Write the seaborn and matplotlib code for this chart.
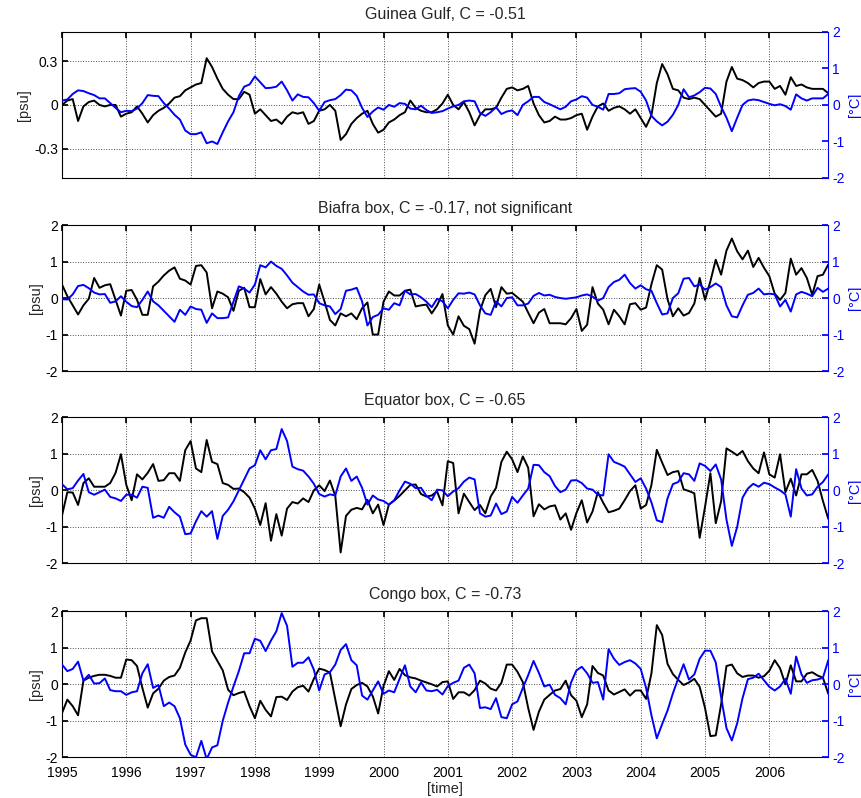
import numpy as np
import pandas as pd
import seaborn as sns
import matplotlib.pyplot as plt

# monthly anomalies, Jan 1995 .. Dec 2006 (salinity [psu] and temperature [degC])
gg_sal = [0.0, 0.03, 0.04, -0.11, -0.01, 0.02, 0.03, 0.0, -0.01, 0.0, 0.0, -0.08,
          -0.06, -0.05, -0.01, -0.06, -0.12, -0.07, -0.04, -0.02, 0.01, 0.05, 0.06, 0.1,
          0.12, 0.14, 0.15, 0.32, 0.26, 0.18, 0.11, 0.07, 0.04, 0.04, 0.09, 0.07,
          -0.06, -0.03, -0.07, -0.11, -0.1, -0.13, -0.08, -0.05, -0.06, -0.05, -0.13, -0.11,
          -0.04, -0.03, 0.0, -0.04, -0.24, -0.2, -0.13, -0.09, -0.06, -0.04, -0.13, -0.19,
          -0.17, -0.12, -0.1, -0.07, -0.05, 0.03, -0.02, -0.04, -0.05, -0.05, -0.03, 0.01,
          0.07, 0.0, -0.03, 0.02, -0.05, -0.14, -0.07, -0.03, -0.03, -0.02, 0.05, 0.11,
          0.12, 0.1, 0.11, 0.13, 0.01, -0.07, -0.12, -0.11, -0.08, -0.1, -0.1, -0.09,
          -0.07, -0.06, -0.17, -0.08, -0.01, 0.01, -0.04, -0.02, -0.01, -0.03, -0.06, -0.03,
          -0.09, -0.15, -0.07, 0.15, 0.28, 0.21, 0.11, 0.1, 0.05, 0.04, 0.05, 0.04,
          0.0, -0.04, -0.08, -0.06, 0.16, 0.26, 0.18, 0.17, 0.15, 0.12, 0.15, 0.16,
          0.16, 0.11, 0.13, 0.07, 0.19, 0.13, 0.14, 0.12, 0.11, 0.11, 0.11, 0.08]
gg_temp = [0.12, 0.15, 0.3, 0.4, 0.38, 0.32, 0.27, 0.18, 0.18, 0.05, -0.08, -0.2,
           -0.16, -0.17, -0.1, 0.05, 0.27, 0.25, 0.24, 0.05, -0.1, -0.27, -0.4, -0.7,
           -0.8, -0.8, -0.75, -1.05, -1.0, -1.07, -0.75, -0.45, -0.2, 0.24, 0.5, 0.56,
           0.78, 0.62, 0.46, 0.47, 0.5, 0.64, 0.4, 0.12, 0.29, 0.22, 0.21, 0.05,
           -0.16, 0.08, 0.13, 0.16, 0.27, 0.42, 0.4, 0.25, -0.08, -0.33, -0.18, -0.07,
           -0.13, 0.0, -0.05, 0.05, 0.03, -0.1, -0.12, -0.02, -0.14, -0.22, -0.2, -0.17,
           -0.1, -0.04, 0.0, 0.1, 0.12, 0.1, -0.22, -0.3, -0.2, -0.06, -0.25, -0.18,
           -0.15, -0.28, 0.0, 0.1, 0.22, 0.22, 0.08, 0.02, -0.05, -0.12, -0.05, 0.1,
           0.15, 0.24, 0.2, 0.0, -0.05, -0.13, 0.3, 0.3, 0.32, 0.43, 0.45, 0.46,
           0.36, 0.12, -0.3, -0.45, -0.56, -0.46, -0.27, 0.0, 0.43, 0.21, 0.26, 0.35,
           0.47, 0.45, 0.3, -0.05, -0.35, -0.72, -0.35, 0.0, 0.12, 0.15, 0.13, 0.08,
           0.03, -0.01, 0.02, -0.03, -0.13, 0.29, 0.18, 0.12, 0.18, 0.18, 0.18, 0.3]
bi_sal = [0.37, 0.05, -0.2, -0.45, -0.2, -0.02, 0.55, 0.28, 0.35, 0.38, -0.05, -0.48,
          0.2, 0.22, -0.05, -0.46, -0.46, 0.32, 0.45, 0.62, 0.75, 0.84, 0.53, 0.48,
          0.37, 0.88, 0.9, 0.7, -0.28, 0.18, 0.12, 0.02, -0.35, 0.2, 0.28, -0.25,
          -0.25, 0.52, 0.1, 0.3, 0.12, -0.1, -0.28, -0.17, -0.14, -0.14, -0.5, -0.3,
          0.37, -0.1, -0.6, -0.75, -0.42, -0.5, -0.42, -0.58, -0.28, -0.12, -1.0, -1.0,
          -0.1, 0.18, 0.07, 0.07, 0.2, 0.23, -0.23, -0.2, -0.18, -0.42, -0.2, 0.11,
          -0.75, -1.0, -0.5, -0.76, -0.85, -1.25, -0.35, 0.08, 0.25, -0.25, 0.3, 0.12,
          0.14, 0.02, -0.1, -0.4, -0.69, -0.4, -0.3, -0.69, -0.69, -0.69, -0.72, -0.55,
          -0.3, -0.9, -0.73, 0.3, -0.15, -0.32, -0.72, -0.32, -0.5, -0.72, -0.17, -0.14,
          -0.32, -0.26, 0.38, 0.9, 0.78, -0.03, -0.5, -0.28, -0.48, -0.41, -0.15, 0.55,
          -0.05, 0.46, 1.05, 0.64, 1.3, 1.63, 1.28, 1.06, 1.3, 0.85, 1.1, 0.83,
          0.6, 0.12, -0.05, 0.14, 1.08, 0.64, 0.82, 0.55, 0.09, 0.6, 0.64, 0.92]
bi_temp = [-0.03, -0.04, 0.1, 0.33, 0.36, 0.27, 0.15, 0.1, 0.11, -0.13, -0.09, 0.05,
           -0.1, -0.22, -0.25, -0.05, 0.18, -0.09, -0.2, -0.35, -0.5, -0.65, -0.32, -0.46,
           -0.23, -0.3, -0.32, -0.68, -0.42, -0.55, -0.55, -0.53, -0.1, 0.32, 0.26, 0.15,
           0.37, 0.9, 0.84, 1.0, 0.88, 0.8, 0.62, 0.42, 0.3, 0.18, 0.09, 0.1,
           -0.14, -0.2, -0.23, -0.44, -0.3, 0.2, 0.23, 0.28, -0.09, -0.75, -0.52, -0.46,
           -0.28, -0.32, -0.14, -0.2, 0.2, 0.1, 0.11, 0.02, -0.1, -0.25, -0.02, -0.09,
           -0.28, -0.05, 0.13, 0.12, 0.15, 0.1, -0.2, -0.42, -0.46, -0.09, -0.23, 0.0,
           0.02, -0.2, -0.2, -0.15, 0.06, 0.14, 0.07, 0.09, 0.03, 0.0, -0.02, 0.0,
           0.02, 0.07, 0.1, 0.04, -0.07, 0.0, 0.3, 0.44, 0.5, 0.64, 0.41, 0.26,
           0.35, 0.24, 0.2, -0.14, -0.45, -0.42, 0.0, 0.13, 0.53, 0.55, 0.32, 0.37,
           0.23, 0.3, 0.4, 0.3, -0.2, -0.5, -0.53, -0.2, 0.09, 0.14, 0.26, 0.1,
           0.12, 0.1, -0.23, -0.05, -0.37, 0.1, 0.17, 0.12, 0.05, 0.28, 0.17, 0.26]
eq_sal = [-0.69, -0.05, -0.06, -0.4, 0.2, 0.33, 0.1, 0.1, 0.1, 0.2, 0.48, 0.99,
          0.15, -0.27, 0.44, 0.3, 0.48, 0.72, 0.26, 0.28, 0.47, 0.47, 0.26, 1.1,
          1.35, 0.6, 0.5, 1.38, 0.78, 0.72, 0.2, 0.15, 0.04, 0.05, -0.05, -0.2,
          -0.5, -0.95, -0.35, -1.38, -0.65, -1.24, -0.5, -0.32, -0.36, -0.22, -0.32, 0.0,
          0.14, -0.02, 0.27, -0.15, -1.7, -0.7, -0.53, -0.48, -0.52, -0.26, -0.63, -0.39,
          -0.95, -0.39, -0.28, -0.15, 0.0, 0.15, 0.16, -0.1, -0.17, -0.14, -0.03, -0.41,
          0.8, 0.75, -0.63, -0.09, -0.32, -0.54, -0.4, -0.63, -0.17, 0.07, 0.78, 1.06,
          0.85, 0.5, 0.93, 0.62, -0.71, -0.38, -0.52, -0.44, -0.41, -0.8, -0.63, -1.08,
          -0.62, -0.27, -0.88, -0.58, -0.05, -0.34, -0.6, -0.56, -0.5, -0.27, -0.02, 0.14,
          -0.5, -0.4, 0.15, 1.11, 0.76, 0.42, 0.5, 0.53, 0.03, -0.02, -0.08, -1.3,
          -0.45, 0.47, -0.9, -0.3, 1.15, 1.06, 0.96, 1.08, 0.8, 0.6, 0.47, 1.04,
          0.44, 0.35, 0.99, -0.05, 0.32, -0.14, 0.44, 0.44, 0.56, 0.26, -0.29, -0.78]
eq_temp = [0.17, 0.03, 0.06, 0.27, 0.45, -0.05, -0.12, -0.05, 0.02, -0.18, -0.22, -0.29,
           -0.12, -0.12, -0.2, 0.1, 0.07, -0.75, -0.69, -0.75, -0.45, -0.6, -0.72, -1.2,
           -1.18, -0.85, -0.57, -0.72, -0.57, -1.33, -0.7, -0.53, -0.3, 0.0, 0.3, 0.6,
           0.69, 1.1, 0.85, 1.1, 1.13, 1.68, 1.35, 0.65, 0.58, 0.54, 0.38, 0.18,
           -0.1, -0.17, -0.11, -0.14, 0.38, 0.6, 0.26, 0.38, 0.07, -0.39, -0.14, -0.25,
           -0.29, -0.39, -0.27, 0.0, 0.24, 0.18, 0.06, 0.07, -0.15, -0.27, 0.02, 0.0,
           -0.16, -0.03, 0.06, 0.24, 0.35, 0.3, -0.63, -0.72, -0.69, -0.36, -0.65, -0.58,
           -0.18, -0.34, -0.14, 0.05, 0.7, 0.69, 0.5, 0.39, 0.12, -0.05, 0.02, 0.27,
           0.28, 0.2, 0.05, 0.02, -0.12, -0.14, 0.99, 0.78, 0.72, 0.65, 0.44, 0.23,
           0.33, 0.05, -0.33, -0.82, -0.87, -0.22, 0.17, 0.23, 0.47, 0.44, 0.26, 0.74,
           0.67, 0.53, 0.71, 0.3, -0.8, -1.52, -1.0, -0.2, 0.05, 0.18, 0.1, 0.21,
           0.17, 0.08, 0.0, -0.11, -0.72, 0.58, 0.05, -0.14, -0.11, 0.1, 0.23, 0.44]
co_sal = [-0.79, -0.42, -0.6, -0.85, 0.1, 0.18, 0.23, 0.26, 0.26, 0.23, 0.18, 0.18,
          0.68, 0.66, 0.5, -0.1, -0.64, -0.25, -0.12, 0.1, 0.2, 0.24, 0.45, 0.87,
          1.2, 1.75, 1.81, 1.81, 0.9, 0.64, 0.38, -0.15, -0.3, -0.24, -0.2, -0.6,
          -0.93, -0.45, -0.7, -0.88, -0.35, -0.34, -0.43, -0.2, -0.08, -0.04, -0.2, 0.15,
          0.43, 0.39, 0.32, -0.42, -1.15, -0.55, -0.13, -0.02, 0.04, -0.06, -0.33, -0.8,
          -0.05, 0.36, 0.12, 0.42, 0.25, 0.19, 0.16, 0.1, 0.05, 0.0, -0.06, 0.06,
          0.08, -0.4, -0.22, -0.22, -0.31, -0.16, 0.1, 0.02, -0.12, -0.17, 0.04, 0.54,
          0.54, 0.34, 0.06, -0.65, -1.25, -0.75, -0.42, -0.29, -0.17, -0.13, 0.1, -0.3,
          -0.45, -0.9, -0.55, 0.5, 0.31, 0.24, -0.17, -0.28, -0.21, -0.14, -0.31, -0.17,
          -0.17, -0.4, 0.3, 1.62, 1.35, 0.56, 0.28, 0.12, -0.02, 0.05, 0.15, -0.07,
          -0.65, -1.42, -1.4, -0.55, 0.5, 0.54, 0.3, 0.2, 0.24, 0.24, 0.18, 0.22,
          0.37, 0.66, 0.44, 0.0, 0.52, 0.08, 0.08, 0.29, 0.33, 0.24, 0.18, -0.26]
co_temp = [0.54, 0.36, 0.42, 0.62, 0.1, 0.26, 0.02, 0.03, 0.16, -0.16, -0.19, -0.19,
           -0.29, -0.22, -0.19, 0.3, 0.55, -0.1, -0.02, -0.6, -0.5, -0.6, -0.93, -1.65,
           -1.93, -2.0, -1.55, -2.05, -1.73, -1.67, -1.0, -0.5, -0.06, 0.36, 0.85, 0.85,
           1.25, 1.19, 0.91, 1.2, 1.45, 1.95, 1.6, 0.48, 0.59, 0.59, 0.74, 0.4,
           -0.17, 0.27, 0.33, 0.54, 0.94, 1.1, 0.66, 0.52, -0.31, -0.42, -0.17, 0.08,
           -0.26, -0.17, -0.22, 0.15, 0.52, -0.06, -0.22, 0.05, -0.17, -0.19, -0.15, -0.28,
           -0.05, 0.04, 0.1, 0.45, 0.54, 0.3, -0.65, -0.63, -0.68, -0.38, -0.9, -0.93,
           -0.55, -0.47, -0.1, 0.25, 0.64, 0.31, -0.06, -0.01, -0.29, -0.38, -0.55, 0.05,
           0.38, 0.48, 0.3, 0.04, 0.06, -0.42, 0.96, 0.7, 0.53, 0.61, 0.66, 0.57,
           0.42, -0.1, -0.85, -1.48, -1.09, -0.72, -0.25, 0.16, 0.55, 0.13, 0.27, 0.7,
           0.92, 0.92, 0.6, -0.35, -1.2, -1.54, -1.07, -0.38, 0.14, 0.18, 0.29, 0.11,
           -0.07, -0.17, -0.06, 0.15, -0.26, 0.76, 0.27, 0.04, 0.11, 0.13, 0.18, 0.66]

titles = ['Guinea Gulf, C = -0.51', 'Biafra box, C = -0.17, not significant',
          'Equator box, C = -0.65', 'Congo box, C = -0.73']
years = list(range(1995, 2007))

time = 1995 + np.arange(144) / 12.0
panels = [(gg_sal, gg_temp), (bi_sal, bi_temp), (eq_sal, eq_temp), (co_sal, co_temp)]

sns.set_theme(style='white')
plt.rcParams['font.family'] = ['Liberation Sans', 'DejaVu Sans']

fig = plt.figure(figsize=(8.61, 7.98), dpi=100)
bottoms = [0.777, 0.535, 0.294, 0.051]

for k, (sal, temp) in enumerate(panels):
    ax = fig.add_axes([0.072, bottoms[k], 0.89, 0.183])
    df = pd.DataFrame({'time': time, 'sal': sal, 'temp': temp})
    sns.lineplot(data=df, x='time', y='sal', ax=ax, color='black', linewidth=1.4)
    ax.set_xlim(1995, time[-1])
    if k == 0:
        ax.set_ylim(-0.5, 0.5)
        ax.set_yticks([-0.3, 0, 0.3])
        ax.set_yticklabels(['-0.3', '0', '0.3'])
    else:
        ax.set_ylim(-2, 2)
        ax.set_yticks([-2, -1, 0, 1, 2])
        ax.set_yticklabels(['-2', '-1', '0', '1', '2'])
    ax.set_xticks(years)
    if k == 3:
        ax.set_xticklabels([str(y) for y in years])
        ax.set_xlabel('[time]', fontsize=10.5, labelpad=2)
    else:
        ax.set_xticklabels([])
        ax.set_xlabel('')
    ax.set_ylabel('[psu]', fontsize=10.5, labelpad=2)
    ax.grid(True, linestyle=':', color='black', linewidth=0.7, alpha=0.7)
    ax.tick_params(direction='in', length=4, top=True, labelsize=10, pad=3,
                   color='black', labelcolor='black')
    ax.tick_params(axis='x', pad=6)
    ax.tick_params(axis='y', right=False, left=True)
    for s in ['left', 'top', 'bottom']:
        ax.spines[s].set_color('black')
        ax.spines[s].set_linewidth(0.8)
    ax.spines['right'].set_visible(False)
    ax.set_title(titles[k], fontsize=11.5, pad=9)

    ax2 = ax.twinx()
    sns.lineplot(data=df, x='time', y='temp', ax=ax2, color='#0000ff', linewidth=1.4)
    ax2.set_ylim(-2, 2)
    ax2.set_yticks([-2, -1, 0, 1, 2])
    ax2.set_yticklabels(['-2', '-1', '0', '1', '2'])
    ax2.set_ylabel('[°C]', fontsize=10.5, color='#0000ff', labelpad=2)
    ax2.tick_params(axis='y', direction='in', length=4, colors='#0000ff',
                    labelsize=10, pad=3)
    ax2.grid(False)
    for s in ['left', 'top', 'bottom']:
        ax2.spines[s].set_visible(False)
    ax2.spines['right'].set_color('#0000ff')
    ax2.spines['right'].set_linewidth(0.8)

fig.savefig('out.png', dpi=100)
